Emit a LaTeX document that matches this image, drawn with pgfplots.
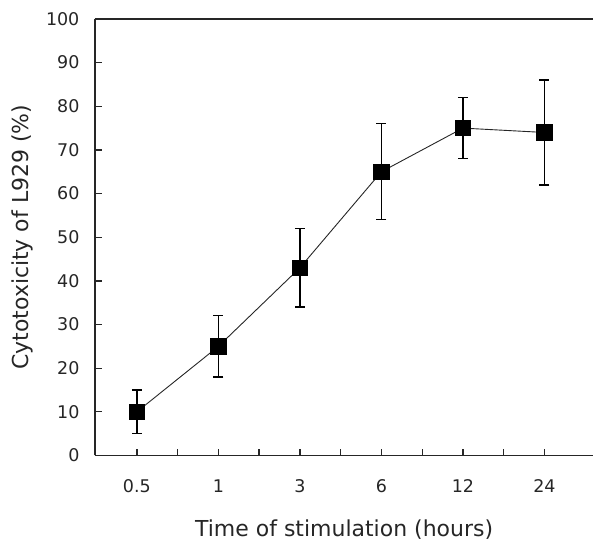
\documentclass[border=0pt]{standalone}
\usepackage{fontspec}
\setmainfont{DejaVu Sans}
\usepackage{pgfplots}
\pgfplotsset{compat=1.18}
\begin{document}
\begin{tikzpicture}
\begin{axis}[
  scale only axis,
  width=499pt, height=437pt,
  xmin=-0.515, xmax=5.6,
  ymin=0, ymax=100,
  axis x line=bottom, axis y line=left,
  axis line style={-, line width=1.3pt, black!85},
  xtick={0,1,2,3,4,5},
  xticklabels={0.5,1,3,6,12,24},
  minor xtick={0.5,1.5,2.5,3.5,4.5},
  ytick={0,10,...,100},
  tick align=inside,
  major tick length=7pt, minor tick length=7pt,
  tick style={line width=1.3pt, black!85},
  /pgf/number format/assume math mode=true,
  tick label style={font=\fontsize{17.5}{17.5}\selectfont, black!85},
  xticklabel style={anchor=center, yshift=-31pt},
  yticklabel style={xshift=-12pt},
  xlabel={Time of stimulation (hours)},
  ylabel={Cytotoxicity of L929 (\%)},
  label style={font=\fontsize{22}{22}\selectfont, black!85},
  xlabel style={at={(rel axis cs:0.5,0)}, anchor=center, yshift=-74pt},
  ylabel style={at={(rel axis cs:0,0.5)}, anchor=center, yshift=73pt},
  clip=false,
]
\addplot[black!85, line width=0.9pt,
  mark=square*, mark size=7.8pt, mark options={fill=black, draw=black},
  error bars/.cd, y dir=both, y explicit,
  error bar style={line width=1.3pt, black},
  error mark options={rotate=90, mark size=5pt, line width=1.3pt, black}]
  coordinates {
    (0,10) +- (0,5)
    (1,25) +- (0,7)
    (2,43) +- (0,9)
    (3,65) +- (0,11)
    (4,75) +- (0,7)
    (5,74) +- (0,12)
  };
\draw[line width=1.3pt, black!85] (rel axis cs:0,1) -- (rel axis cs:1,1);
\path (rel axis cs:0,0) ++(-95pt,-84pt) coordinate (bbA);
\path (rel axis cs:1,1) ++(0pt,19pt) coordinate (bbB);
\end{axis}
\useasboundingbox (bbA) rectangle (bbB);
\end{tikzpicture}
\end{document}
